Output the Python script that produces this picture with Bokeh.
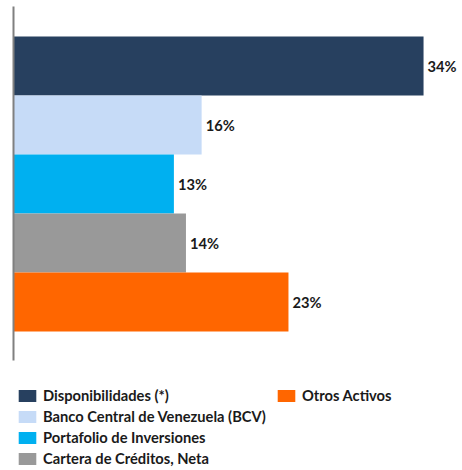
from bokeh.plotting import figure
from bokeh.models import ColumnDataSource, Range1d, Legend, LegendItem, LinearAxis, FixedTicker
from bokeh.core.properties import value
from bokeh.embed import file_html
from bokeh.resources import INLINE

categories = ["Disponibilidades (*)", "Banco Central de Venezuela (BCV)",
              "Portafolio de Inversiones", "Cartera de Créditos, Neta", "Otros Activos"]
values = [34.0, 15.6, 13.3, 14.3, 22.8]
labels = ["34%", "16%", "13%", "14%", "23%"]
colors = ["#27405F", "#C6DBF7", "#00B0F0", "#999999", "#FF6600"]

n = len(categories)
ypos = [n - i for i in range(n)]

src = ColumnDataSource(dict(cat=categories, val=values, lab=labels, col=colors, y=ypos))

FONT = "Lato"
FSIZE = "14.7px"

p = figure(width=462, height=470, output_backend="svg", toolbar_location=None,
           x_range=Range1d(0, 37.23), y_range=Range1d(-1.856, 6.11),
           min_border_left=13, min_border_right=0, min_border_top=0, min_border_bottom=0,
           y_axis_location=None)
p.xaxis.visible = False
p.grid.visible = False
p.outline_line_color = None

yax = LinearAxis(bounds=(0, 6.01), axis_line_color="#808080", axis_line_width=2,
                 ticker=FixedTicker(ticks=[]),
                 major_tick_line_color=None, minor_tick_line_color=None,
                 major_label_standoff=0, major_tick_out=0, major_tick_in=0)
p.add_layout(yax, "left")

r = p.hbar(y="y", right="val", left=0, height=1.0, color="col", line_color=None, source=src)

p.text(x="val", y="y", text="lab", source=src, x_offset=4, text_baseline="middle",
       text_align="left", text_font=value(FONT), text_font_size=FSIZE,
       text_font_style="bold", text_color="#1a1a1a")

items1 = [LegendItem(label=categories[i], renderers=[r], index=i) for i in range(4)]
items2 = [LegendItem(label=categories[4], renderers=[r], index=4)]

common = dict(margin=0, padding=0, spacing=3, glyph_width=22, glyph_height=15,
              label_height=15, label_standoff=5, label_text_font=FONT,
              label_text_font_size=FSIZE, label_text_font_style="bold",
              label_text_color="#1a1a1a", border_line_color=None,
              background_fill_alpha=0)
leg1 = Legend(items=items1, location=(3, 3), **common)
leg2 = Legend(items=items2, location=(262, 66), **common)
p.add_layout(leg1)
p.add_layout(leg2)

open("out.html", "w").write(file_html(p, INLINE))
